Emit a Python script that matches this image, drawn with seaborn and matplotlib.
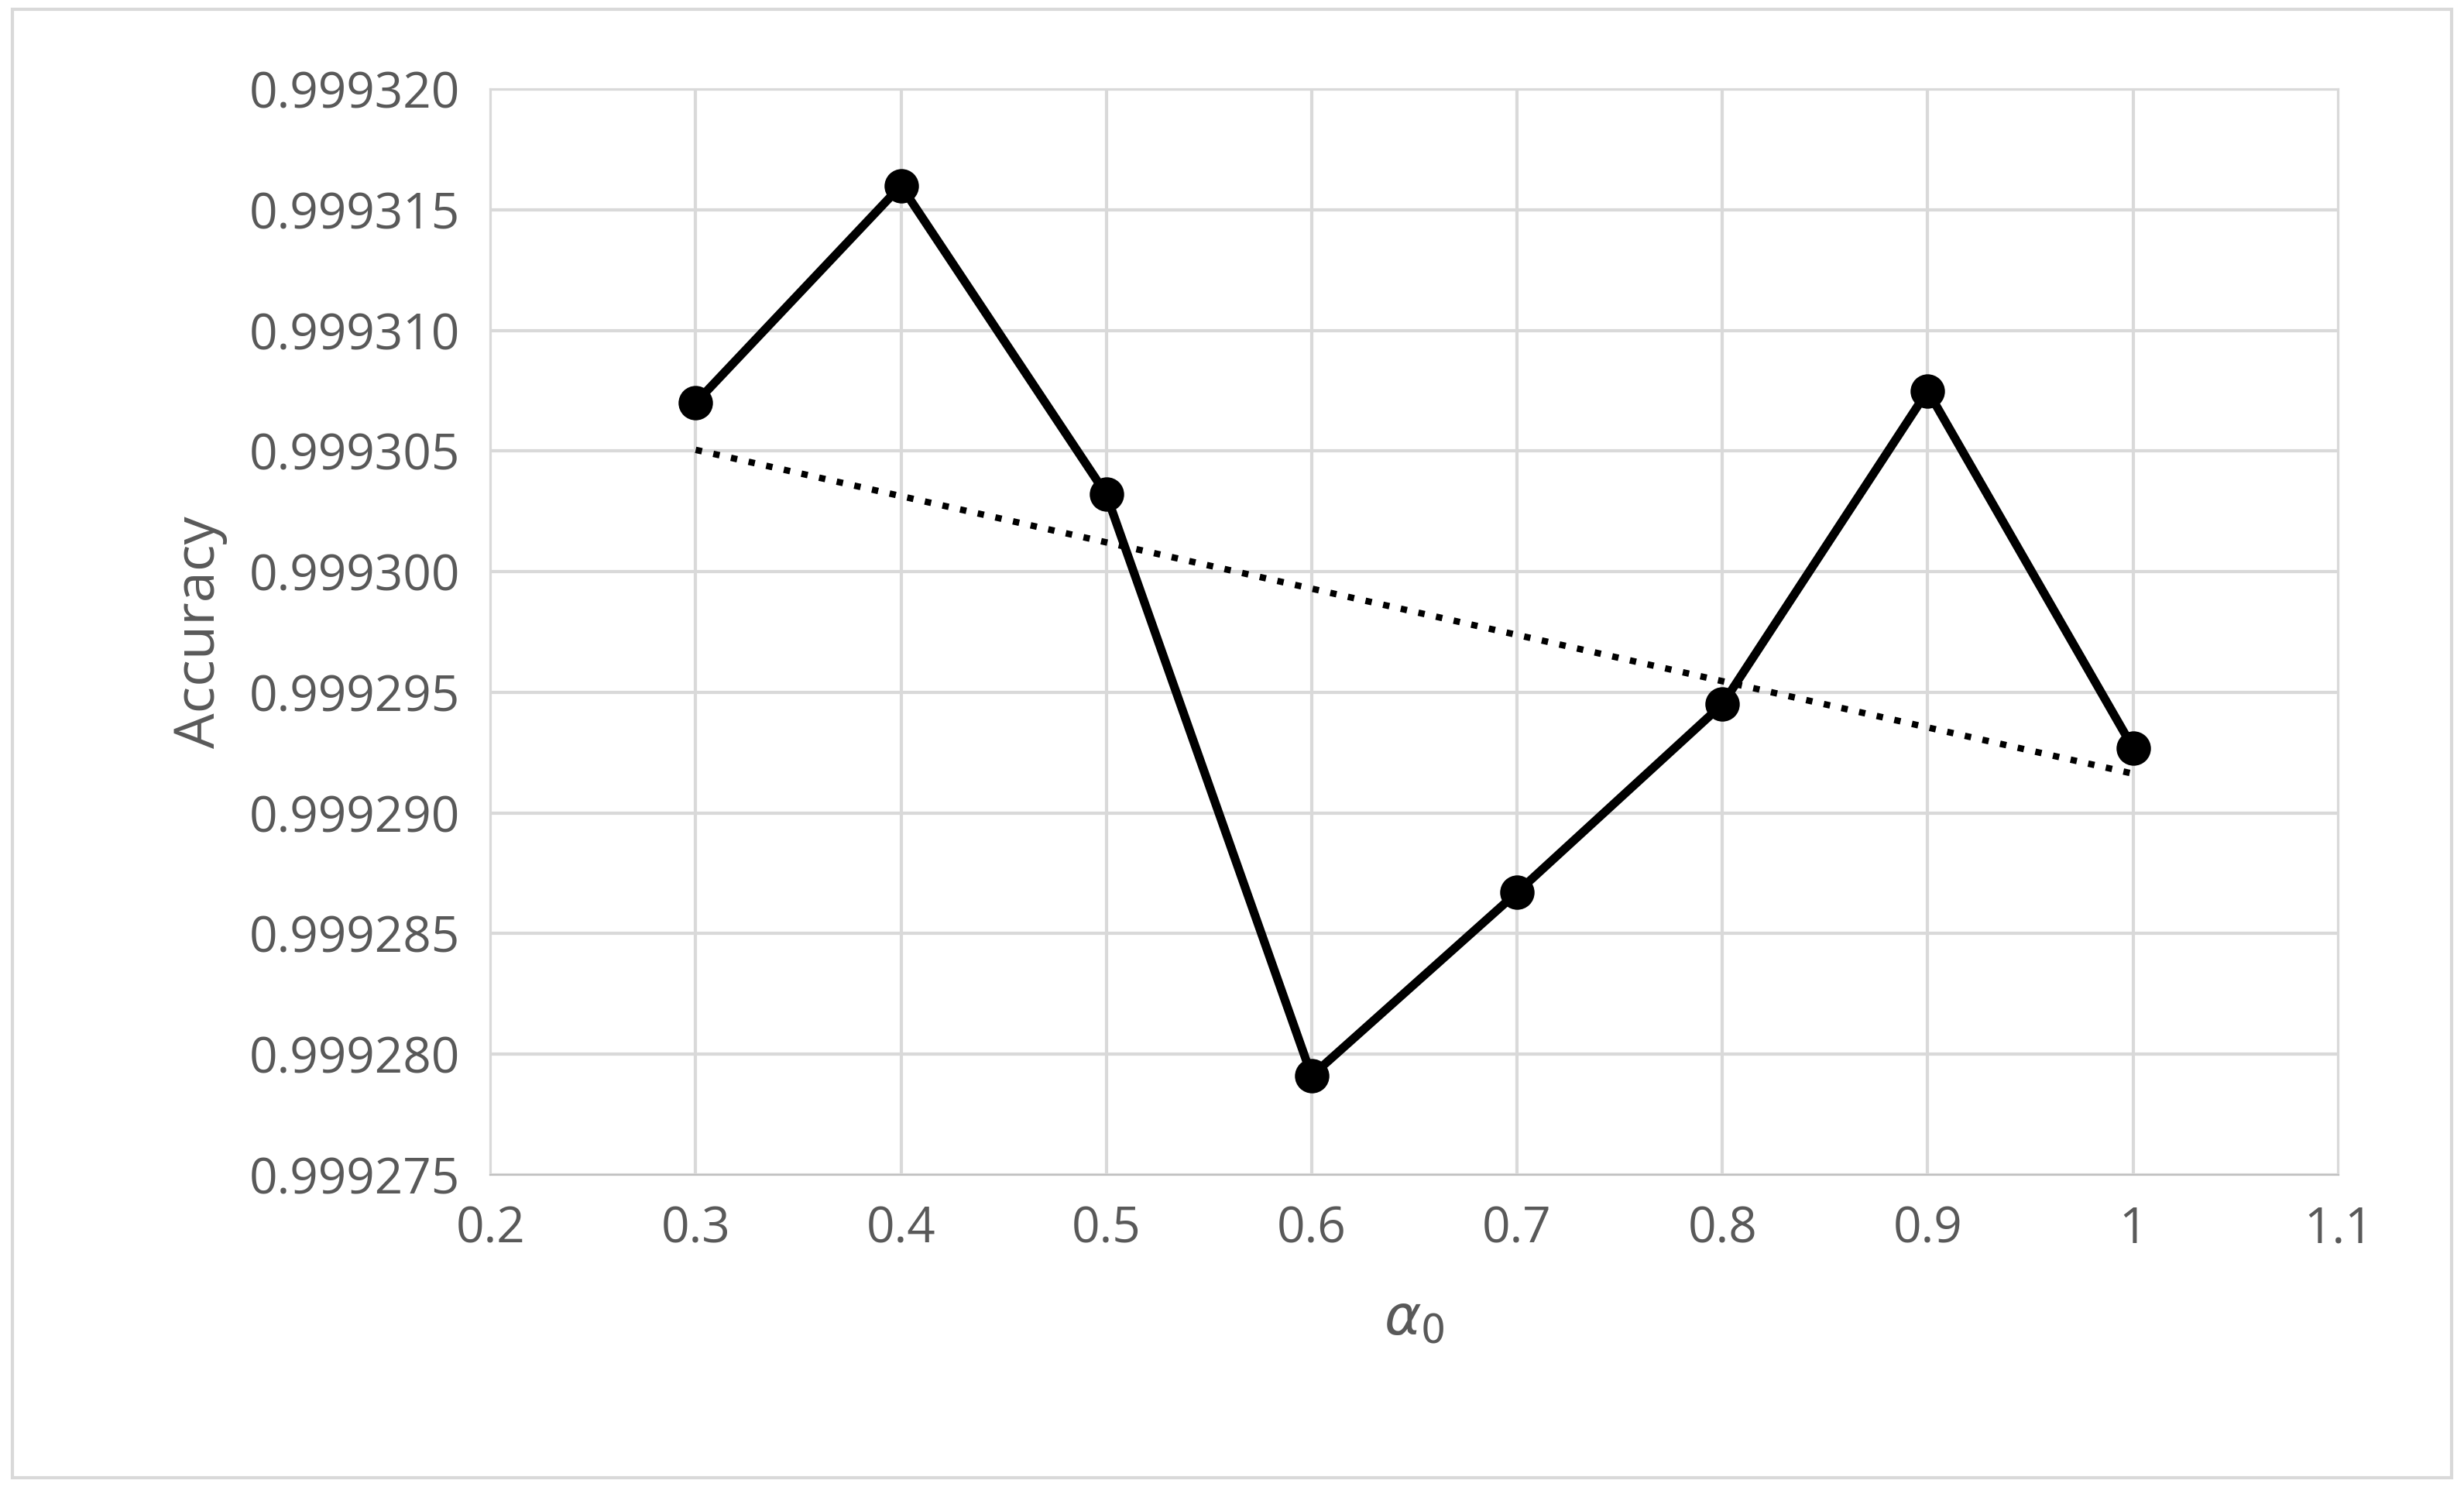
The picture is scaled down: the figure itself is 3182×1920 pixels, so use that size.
import numpy as np
import pandas as pd
import seaborn as sns
import matplotlib.pyplot as plt
from matplotlib.patches import Rectangle

alpha0 = [0.3, 0.4, 0.5, 0.6, 0.7, 0.8, 0.9, 1.0]
accuracy = [0.9993070, 0.9993160, 0.9993032, 0.9992791, 0.9992867,
            0.9992945, 0.9993075, 0.9992927]
yticks = [0.999275 + 0.000005 * i for i in range(10)]
xticks = [0.2, 0.3, 0.4, 0.5, 0.6, 0.7, 0.8, 0.9, 1.0, 1.1]
xticklabels = ['0.2', '0.3', '0.4', '0.5', '0.6', '0.7', '0.8', '0.9', '1', '1.1']

df = pd.DataFrame({'alpha0': alpha0, 'accuracy': accuracy})

sns.set_style('white')
plt.rcParams['font.family'] = ['Open Sans', 'DejaVu Sans']
grey = '#595959'

fig = plt.figure(figsize=(15.91, 9.6), dpi=200)
ax = fig.add_axes([0.199, 0.210, 0.750, 0.730])
fig.patches.append(Rectangle((0.005, 0.006), 0.99, 0.988, transform=fig.transFigure,
                             fill=False, edgecolor='#d9d9d9', lw=1.5))

sns.lineplot(data=df, x='alpha0', y='accuracy', ax=ax, color='black', lw=4,
             marker='o', markersize=16, markeredgewidth=0, zorder=3)

# linear trendline
k, b = np.polyfit(df['alpha0'], df['accuracy'], 1)
xs = np.array([alpha0[0], alpha0[-1]])
ax.plot(xs, k * xs + b, color='black', lw=3, linestyle=(0, (1, 1.8)), zorder=2)

ax.set_xlim(0.2, 1.1)
ax.set_ylim(yticks[0], yticks[-1])
ax.set_xticks(xticks)
ax.set_xticklabels(xticklabels)
ax.set_yticks(yticks)
ax.set_yticklabels([f'{v:.6f}' for v in yticks])
ax.grid(True, color='#d9d9d9', lw=1.5)
for s in ['top', 'right', 'left']:
    ax.spines[s].set_color('#d9d9d9')
ax.spines['bottom'].set_color('#bfbfbf')
ax.tick_params(axis='both', labelsize=23, colors=grey, length=0, pad=14)
ax.set_xlabel(r'$\alpha_0$', fontsize=26, color=grey, labelpad=18)
ax.set_ylabel('Accuracy', fontsize=26, color=grey, labelpad=10)

fig.savefig('out.png', dpi=200)
